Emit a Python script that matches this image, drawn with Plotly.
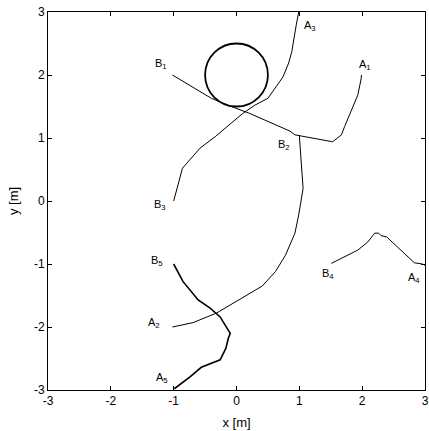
import plotly.graph_objects as go

# trajectories (x, y in metres)
path1_x = [-1.02, -0.58, -0.40, -0.11, 0.21, 0.85, 0.93, 1.53, 1.67, 1.72, 1.93, 1.98, 1.99]
path1_y = [2.00, 1.73, 1.63, 1.51, 1.39, 1.11, 1.05, 0.94, 1.05, 1.18, 1.68, 1.92, 2.00]

path2_x = [-1.02, -0.69, -0.32, 0.34, 0.41, 0.62, 0.78, 0.93, 0.99, 1.06, 1.03, 1.00]
path2_y = [-2.00, -1.93, -1.78, -1.39, -1.35, -1.12, -0.86, -0.51, -0.22, 0.20, 0.60, 1.04]

path3_x = [-1.00, -0.86, -0.58, -0.34, 0.10, 0.29, 0.50, 0.74, 0.83, 0.88, 0.95, 0.99]
path3_y = [0.00, 0.52, 0.84, 1.02, 1.39, 1.52, 1.63, 1.97, 2.19, 2.37, 2.79, 3.00]

path4_x = [1.51, 1.93, 2.09, 2.20, 2.26, 2.30, 2.39, 2.83, 2.96, 3.00]
path4_y = [-0.99, -0.78, -0.65, -0.51, -0.51, -0.55, -0.57, -0.98, -1.00, -1.02]

path5_x = [-1.00, -0.85, -0.61, -0.42, -0.26, -0.10, -0.13, -0.17, -0.26, -0.56, -0.74, -0.99]
path5_y = [-1.00, -1.28, -1.57, -1.70, -1.84, -2.10, -2.18, -2.34, -2.52, -2.64, -2.79, -2.98]

# obstacle
obstacle_center = (0.0, 2.0)
obstacle_radius = 0.5

# point labels
label_text = ["B<sub>1</sub>", "A<sub>1</sub>", "B<sub>2</sub>", "A<sub>2</sub>", "B<sub>3</sub>",
              "A<sub>3</sub>", "B<sub>4</sub>", "A<sub>4</sub>", "B<sub>5</sub>", "A<sub>5</sub>"]
label_x = [-1.20, 2.05, 0.75, -1.32, -1.22, 1.17, 1.45, 2.83, -1.27, -1.19]
label_y = [2.17, 2.16, 0.89, -1.94, -0.06, 2.77, -1.16, -1.22, -0.95, -2.81]

# axis ticks (plain hyphen minus, as in the original)
tick_vals = [-3, -2, -1, 0, 1, 2, 3]
tick_labels = ["-3", "-2", "-1", "0", "1", "2", "3"]

FONT = "Liberation Sans, Arial"

fig = go.Figure()

paths = [(path1_x, path1_y, 1), (path2_x, path2_y, 1), (path3_x, path3_y, 1),
         (path4_x, path4_y, 1), (path5_x, path5_y, 1.6)]
for px, py, w in paths:
    fig.add_trace(go.Scatter(x=px, y=py, mode="lines",
                             line=dict(color="black", width=w),
                             showlegend=False, hoverinfo="skip"))

cx, cy = obstacle_center
fig.add_shape(type="circle", xref="x", yref="y",
              x0=cx - obstacle_radius, x1=cx + obstacle_radius,
              y0=cy - obstacle_radius, y1=cy + obstacle_radius,
              line=dict(color="black", width=1.8))

for t, x, y in zip(label_text, label_x, label_y):
    fig.add_annotation(x=x, y=y, text=t, showarrow=False,
                       font=dict(family=FONT, size=11, color="black"))

axis_style = dict(
    range=[-3, 3], tickvals=tick_vals, ticktext=tick_labels,
    showgrid=False, zeroline=False, automargin=False,
    showline=True, linecolor="black", linewidth=1, mirror="ticks",
    ticks="inside", ticklen=4, tickcolor="black",
    tickfont=dict(family=FONT, size=12, color="black"),
)

fig.update_layout(
    width=429, height=431,
    margin=dict(l=48, r=4, t=12, b=41),
    plot_bgcolor="white", paper_bgcolor="white",
    xaxis=dict(axis_style, title=dict(text="x [m]", standoff=10,
               font=dict(family=FONT, size=13, color="black"))),
    yaxis=dict(axis_style, title=dict(text="y [m]", standoff=12,
               font=dict(family=FONT, size=13, color="black"))),
)

fig.write_html("out.html", config={"displayModeBar": False},
               post_script="document.body.style.margin='0';document.body.style.overflow='hidden';")
